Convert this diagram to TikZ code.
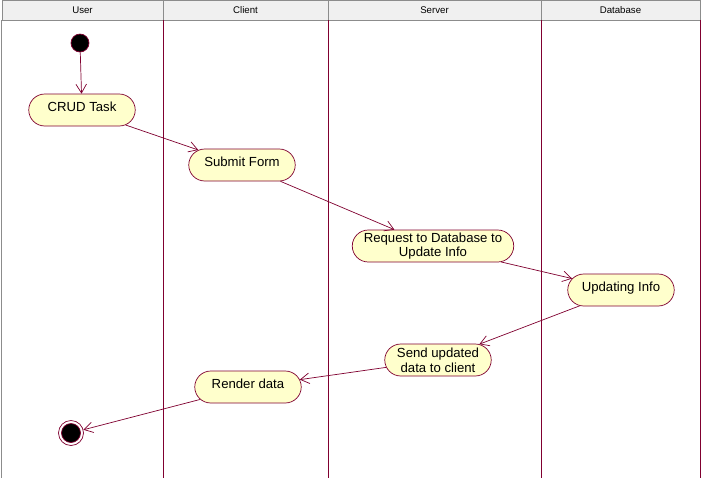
\documentclass[tikz,border=0pt]{standalone}
\usepackage{fontspec}
\setmainfont{Liberation Sans}
\usetikzlibrary{shapes.misc, arrows.meta}
\definecolor{UMLLine}{RGB}{128,0,48}
\definecolor{UMLFill}{RGB}{255,255,204}
\definecolor{HdrFill}{RGB}{240,240,240}
\definecolor{HdrLine}{RGB}{140,140,140}

\begin{document}
\begin{tikzpicture}[x=0.02cm, y=-0.02cm,
          act/.style={rounded rectangle, draw=UMLLine, fill=UMLFill, minimum width=2.2cm,
                      minimum height=0.64cm, align=center, inner sep=1pt,
                      font=\fontsize{7.5}{8.3}\selectfont},
          oneline/.style={text depth=4pt},
          hdr/.style={rectangle, draw=HdrLine, fill=HdrFill, minimum height=0.4cm,
                      font=\fontsize{5.5}{6}\selectfont},
          arr/.style={-{Straight Barb[length=5pt, width=6pt]}, draw=UMLLine, thin},
          lane/.style={draw=UMLLine, thin}
        ]
        \useasboundingbox (0,0) rectangle (701,478);
        \fill[white] (0,0) rectangle (701,478);

        % swimlane headers
        \node[hdr, minimum width=3.22cm] (hUser)   at (82.5,10)  {User};
        \node[hdr, minimum width=3.30cm] (hClient) at (245.5,10) {Client};
        \node[hdr, minimum width=4.26cm] (hServer) at (434.5,10) {Server};
        \node[hdr, minimum width=3.18cm] (hDb)     at (620.5,10) {Database};

        % lanes
        \draw[HdrLine] (1.5,20) -- (1.5,478);
        \draw[lane] (163,20) -- (163,478);
        \draw[lane] (328,20) -- (328,478);
        \draw[lane] (541,20) -- (541,478);
        \draw[lane] (700,20) -- (700,478);

        % states
        \node[circle, draw=UMLLine, fill=black, minimum size=0.36cm, inner sep=0pt]
              (start) at (80,43) {};
        \node[act, oneline] (crud)    at (82,110)  {CRUD Task};
        \node[act, oneline] (submit)  at (242,165) {Submit Form};
        \node[act, minimum width=3.3cm] (request) at (433,246)
              {Request to Database to\\Update Info};
        \node[act, oneline] (updating) at (621,290) {Updating Info};
        \node[act] (send)    at (438,360) {Send updated\\data to client};
        \node[act, oneline] (render)  at (248,387) {Render data};
        \node[circle, draw=UMLLine, fill=white, minimum size=0.5cm, inner sep=0pt]
              (stop) at (71,433) {};
        \node[circle, draw=UMLLine, fill=black, minimum size=0.38cm, inner sep=0pt]
              (stopdot) at (stop.center) {};

        \draw[arr] (start)    -- (crud);
        \draw[arr] (crud)     -- (submit);
        \draw[arr] (submit)   -- (request);
        \draw[arr] (request)  -- (updating);
        \draw[arr] (updating) -- (send);
        \draw[arr] (send)     -- (render);
        \draw[arr] (render)   -- (stop);
      \end{tikzpicture}
\end{document}
